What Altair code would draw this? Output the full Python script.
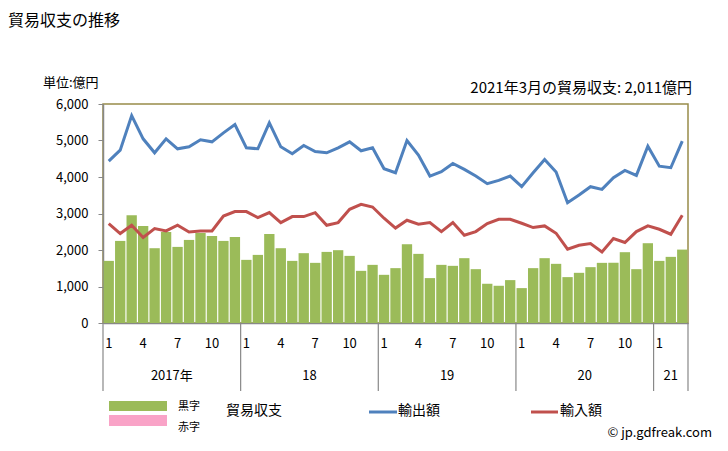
import altair as alt
import pandas as pd

years = [2017, 2018, 2019, 2020, 2021]

exports = [
    4434, 4735, 5683, 5046, 4663, 5046, 4773, 4828, 5019, 4964, 5210, 5437,
    4800, 4773, 5484, 4828, 4637, 4863, 4699, 4663, 4800, 4964, 4719, 4800,
    4227, 4117, 5000, 4600, 4026, 4144, 4372, 4208, 4026, 3816, 3907, 4026,
    3735, 4117, 4481, 4135, 3297, 3506, 3735, 3661, 3981, 4180, 4044, 4845,
    4298, 4254, 4982,
]
imports = [
    2724, 2451, 2678, 2342, 2587, 2522, 2678, 2495, 2522, 2522, 2932, 3052,
    3052, 2888, 3024, 2751, 2915, 2915, 3024, 2678, 2751, 3115, 3251, 3178,
    2870, 2600, 2814, 2705, 2751, 2505, 2751, 2404, 2505, 2724, 2842, 2842,
    2732, 2615, 2660, 2459, 2022, 2131, 2177, 1948, 2314, 2205, 2505, 2660,
    2568, 2432, 2951,
]
balance = [
    1702, 2249, 2951, 2658, 2049, 2494, 2085, 2276, 2467, 2385, 2249, 2358,
    1730, 1866, 2440, 2049, 1702, 1913, 1648, 1948, 1995, 1839, 1429, 1593,
    1320, 1503, 2158, 1894, 1230, 1593, 1566, 1776, 1475, 1075, 1020, 1175,
    956, 1503, 1776, 1621, 1257, 1375, 1530, 1648, 1648, 1940, 1475, 2186,
    1702, 1812, 2011,
]
month_tick_labels = ["1", "4", "7", "10"]
year_labels = ["2017年", "18", "19", "20", "21"]
y_ticks = [0, 1000, 2000, 3000, 4000, 5000, 6000]

n = len(balance)
months = [(i % 12) + 1 for i in range(n)]
df = pd.DataFrame({"idx": list(range(n)), "month": months,
                   "balance": balance, "exports": exports, "imports": imports})

# month tick labels
ml_rows = []
for i, m in enumerate(months):
    if str(m) in month_tick_labels:
        ml_rows.append({"pos": i + 0.5, "label": str(m)})
ml_df = pd.DataFrame(ml_rows)

# year labels and dividers
yl_rows = []
div_pos = []
start = 0
for k, y in enumerate(years):
    cnt = sum(1 for i in range(n) if 2017 + i // 12 == y)
    yl_rows.append({"pos": start + cnt / 2, "label": year_labels[k]})
    div_pos.append(start)
    start += cnt
div_pos.append(start)
yl_df = pd.DataFrame(yl_rows)
div_df = pd.DataFrame({"pos": div_pos})

FONT = "Noto Sans CJK JP"
GREEN = "#9BBB59"
BLUE = "#4F81BD"
RED = "#C0504D"
PINK = "#F9A3C7"
GRAY = "#888888"

xscale = alt.Scale(domain=[0, n], nice=False, zero=False)
yscale = alt.Scale(domain=[0, 6000], nice=False)

XAXIS = alt.Axis(labels=False, ticks=False, grid=False, title=None,
                 domainColor=GRAY, domainWidth=1.5)
YAXIS = alt.Axis(values=y_ticks, format=",.0f", grid=False, title=None,
                 domainColor=GRAY, domainWidth=1.5, tickColor=GRAY,
                 tickSize=5, labelPadding=10, labelFont=FONT,
                 labelFontSize=13, labelColor="#000000", labelOverlap=False)

base = alt.Chart(df)

bars = base.transform_calculate(
    x0="datum.idx + 0.05", x1="datum.idx + 0.95"
).mark_rect(color=GREEN).encode(
    x=alt.X("x0:Q", scale=xscale, axis=XAXIS),
    x2="x1:Q",
    y=alt.Y("balance:Q", scale=yscale, axis=YAXIS),
    y2=alt.datum(0),
)

line_exp = base.transform_calculate(xc="datum.idx + 0.5").mark_line(
    color=BLUE, strokeWidth=3).encode(
    x=alt.X("xc:Q", scale=xscale, axis=XAXIS),
    y=alt.Y("exports:Q", scale=yscale, axis=YAXIS))
line_imp = base.transform_calculate(xc="datum.idx + 0.5").mark_line(
    color=RED, strokeWidth=3).encode(
    x=alt.X("xc:Q", scale=xscale, axis=XAXIS),
    y=alt.Y("imports:Q", scale=yscale, axis=YAXIS))

dividers = alt.Chart(div_df).mark_rule(color=GRAY, strokeWidth=1.2).encode(
    x=alt.X("pos:Q", scale=xscale, axis=XAXIS),
    y=alt.value(219), y2=alt.value(287))

mlab = alt.Chart(ml_df).mark_text(font=FONT, fontSize=13, color="#000",
                                  baseline="middle").encode(
    x=alt.X("pos:Q", scale=xscale, axis=XAXIS), y=alt.value(240),
    text="label:N")
ylab = alt.Chart(yl_df).mark_text(font=FONT, fontSize=13, color="#000",
                                  baseline="middle").encode(
    x=alt.X("pos:Q", scale=xscale, axis=XAXIS), y=alt.value(272),
    text="label:N")


def txt(s, x, y, size=13, align="left"):
    return alt.Chart(pd.DataFrame({"t": [s]})).mark_text(
        font=FONT, fontSize=size, color="#000", align=align, baseline="middle"
    ).encode(text="t:N", x=alt.value(x), y=alt.value(y))


def box(x1, x2, y1, y2, color):
    return alt.Chart(pd.DataFrame({"t": [0]})).mark_rect(color=color).encode(
        x=alt.value(x1), x2=alt.value(x2), y=alt.value(y1), y2=alt.value(y2))


def seg(x1, x2, y, color):
    return alt.Chart(pd.DataFrame({"t": [0]})).mark_rule(
        color=color, strokeWidth=3).encode(
        x=alt.value(x1), x2=alt.value(x2), y=alt.value(y))


title = txt("貿易収支の推移", -95, -83, size=16)
unit = txt("単位:億円", -60, -21, size=13)
note = txt("2021年3月の貿易収支: 2,011億円", 589, -16, size=15, align="right")

leg = [
    box(6, 64, 297, 307, GREEN),
    box(6, 64, 311, 322, PINK),
    txt("黒字", 75, 303, size=11),
    txt("赤字", 75, 324, size=11),
    txt("貿易収支", 123, 307, size=14),
    seg(266, 294, 308, BLUE),
    txt("輸出額", 295, 307, size=14),
    seg(428, 455, 308, RED),
    txt("輸入額", 457, 307, size=14),
    txt("© jp.gdfreak.com", 609, 329, size=13, align="right"),
]

chart = alt.layer(
    bars, line_imp, line_exp, dividers, mlab, ylab, title, unit, note, *leg
).properties(
    width=585, height=219,
    padding={"left": 95, "top": 96, "right": 32, "bottom": 120},
    autosize=alt.AutoSizeParams(type="none"),
    background="white",
).configure_view(stroke="#988C4A", strokeWidth=1.5)

chart.save("out.html", embed_options={"renderer": "svg", "actions": False})
